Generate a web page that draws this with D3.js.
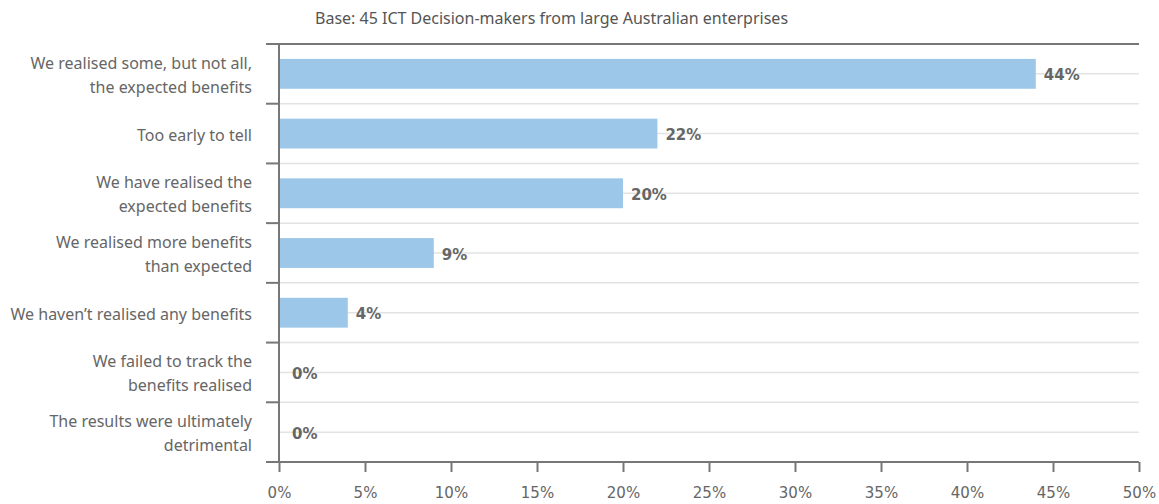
<!DOCTYPE html>
<html>
<head>
<meta charset="utf-8">
<script src="https://cdn.jsdelivr.net/npm/d3@7"></script>
<style>
  html, body { margin: 0; padding: 0; background: #fff; }
  svg { display: block; font-family: "Noto Sans", "Open Sans", sans-serif; }
</style>
</head>
<body>
<svg id="chart" width="1159" height="504"></svg>
<script>
const categories = [
  ["We realised some, but not all,", "the expected benefits"],
  ["Too early to tell"],
  ["We have realised the", "expected benefits"],
  ["We realised more benefits", "than expected"],
  ["We haven\u2019t realised any benefits"],
  ["We failed to track the", "benefits realised"],
  ["The results were ultimately", "detrimental"]
];
const values = [44, 22, 20, 9, 4, 0, 0];
const xTicks = [0, 5, 10, 15, 20, 25, 30, 35, 40, 45, 50];
const baseNote = "Base: 45 ICT Decision-makers from large Australian enterprises";

const svg = d3.select("#chart");
const plotLeft = 279, plotRight = 1139, plotTop = 44, plotBottom = 462;

const x = d3.scaleLinear().domain([0, 50]).range([plotLeft, plotRight]);
const y = d3.scaleBand().domain(d3.range(categories.length)).range([plotTop, plotBottom]).paddingInner(0).paddingOuter(0);

// Horizontal gridlines at band edges and band centres
const grid = svg.append("g");
d3.range(categories.length).forEach(i => {
  const y0 = y(i), yc = y(i) + y.bandwidth() / 2;
  if (i > 0) grid.append("line").attr("x1", plotLeft).attr("x2", plotRight).attr("y1", y0).attr("y2", y0)
    .attr("stroke", "#e3e3e3").attr("stroke-width", 1.5);
  grid.append("line").attr("x1", plotLeft).attr("x2", plotRight).attr("y1", yc).attr("y2", yc)
    .attr("stroke", "#e3e3e3").attr("stroke-width", 1.5);
});

// Bars
svg.append("g").selectAll("rect").data(values).join("rect")
  .attr("x", x(0))
  .attr("y", (d, i) => y(i) + y.bandwidth() * 0.25)
  .attr("width", d => x(d) - x(0))
  .attr("height", y.bandwidth() * 0.5)
  .attr("fill", "#9dc7e8");

// Value labels
svg.append("g").selectAll("text").data(values).join("text")
  .attr("x", d => Math.max(x(d) + 8, x(0) + 13))
  .attr("y", (d, i) => y(i) + y.bandwidth() / 2 + 6.5)
  .attr("font-family", "\"DejaVu Sans\", sans-serif")
  .attr("font-size", 15)
  .attr("font-weight", "bold")
  .attr("fill", "#666")
  .text(d => d + "%");

// Top border
svg.append("line").attr("x1", 266).attr("x2", plotRight).attr("y1", plotTop).attr("y2", plotTop)
  .attr("stroke", "#777").attr("stroke-width", 2);

// Bottom axis
const xAxis = d3.axisBottom(x).tickValues(xTicks).tickFormat(d => d + "%").tickSizeInner(10).tickSizeOuter(0);
const gx = svg.append("g").attr("transform", `translate(0,${plotBottom})`).call(xAxis);
gx.select(".domain").remove();
gx.append("line").attr("x1", 266).attr("x2", plotRight).attr("y1", 0).attr("y2", 0)
  .attr("stroke", "#777").attr("stroke-width", 2);
gx.selectAll(".tick line").attr("stroke", "#777").attr("stroke-width", 2);
gx.selectAll(".tick text")
  .attr("y", 36).attr("dy", null)
  .attr("fill", "#666").attr("font-size", 15)
  .attr("font-family", "\"DejaVu Sans\", sans-serif");

// Left axis line and band ticks
svg.append("line").attr("x1", plotLeft).attr("x2", plotLeft).attr("y1", plotTop).attr("y2", plotBottom)
  .attr("stroke", "#777").attr("stroke-width", 2);
d3.range(1, categories.length).forEach(i => {
  svg.append("line").attr("x1", 266).attr("x2", plotLeft).attr("y1", y(i)).attr("y2", y(i))
    .attr("stroke", "#777").attr("stroke-width", 2);
});

// Category labels
const lab = svg.append("g").selectAll("text").data(categories).join("text")
  .attr("text-anchor", "end")
  .attr("font-size", 16)
  .attr("fill", "#666")
  .attr("y", (d, i) => y(i) + y.bandwidth() / 2 + 7);
lab.each(function(lines) {
  const t = d3.select(this);
  const n = lines.length, lh = 24;
  lines.forEach((s, k) => {
    t.append("tspan").attr("x", 252)
      .attr("dy", k === 0 ? -(n - 1) * lh / 2 : lh)
      .text(s);
  });
});

// Base note
svg.append("text").attr("x", 315).attr("y", 24)
  .attr("font-size", 16).attr("fill", "#555")
  .text(baseNote);
</script>
</body>
</html>
